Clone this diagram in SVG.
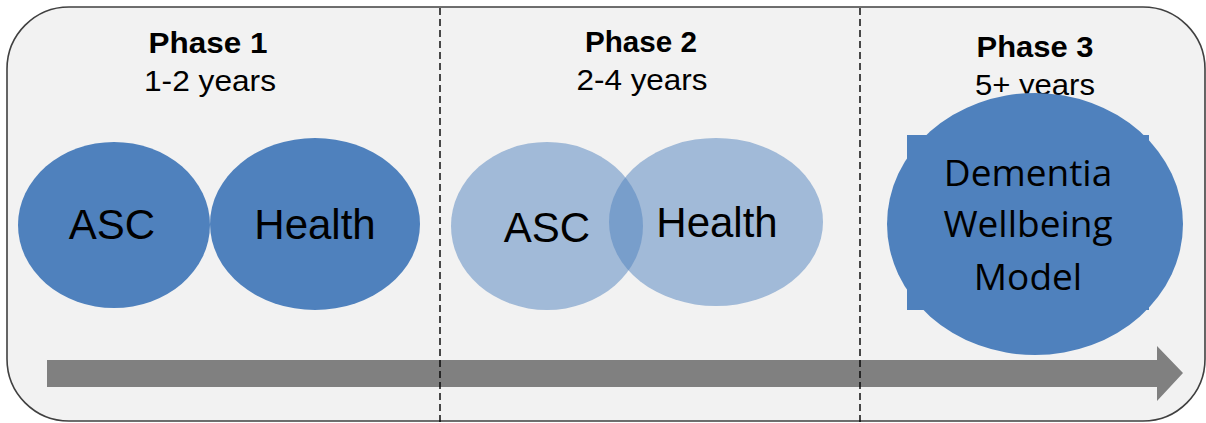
<svg xmlns="http://www.w3.org/2000/svg" width="1206" height="423" viewBox="0 0 1206 423">
  <style>
    .frame { fill: #f2f2f2; stroke: #404040; stroke-width: 1.6; }
    .divider { stroke: #000; stroke-width: 1.4; stroke-dasharray: 7 4; fill: none; }
    .title { font-family: "Liberation Sans", Arial, sans-serif; font-weight: bold; font-size: 30px; fill: #000; text-anchor: middle; }
    .sub { font-family: "Liberation Sans", Arial, sans-serif; font-size: 30px; fill: #000; text-anchor: middle; }
    .lbl { font-family: "Liberation Sans", Arial, sans-serif; font-size: 42px; fill: #000; text-anchor: middle; }
    .dwm { font-family: "Open Sans", "Noto Sans", sans-serif; font-size: 37px; fill: #000; text-anchor: middle; }
    .solid { fill: #4f81bd; }
    .faded { fill: #4f81bd; fill-opacity: 0.5; }
    .arrow { fill: #808080; }
  </style>

  <path class="frame" d="M69,7 H1143 A62,62 0 0 1 1205,69 V359 A62,62 0 0 1 1143,421 H69 A62,62 0 0 1 7,359 V69 A62,62 0 0 1 69,7 Z"/>

  <g id="phase1-header">
    <text class="title" x="208" y="53" textLength="119" lengthAdjust="spacingAndGlyphs">Phase 1</text>
    <text class="sub" x="210" y="91" textLength="132" lengthAdjust="spacingAndGlyphs">1-2 years</text>
  </g>
  <g id="phase2-header">
    <text class="title" x="641" y="52" textLength="112" lengthAdjust="spacingAndGlyphs">Phase 2</text>
    <text class="sub" x="642" y="90" textLength="131" lengthAdjust="spacingAndGlyphs">2-4 years</text>
  </g>
  <g id="phase3-header">
    <text class="title" x="1035" y="57" textLength="117" lengthAdjust="spacingAndGlyphs">Phase 3</text>
    <text class="sub" x="1035" y="95" textLength="120" lengthAdjust="spacingAndGlyphs">5+ years</text>
  </g>

  <g id="connectors">
    <polygon class="arrow" points="47,360 1157,360 1157,346 1183,373 1157,401 1157,387 47,387"/>
  </g>

  <g id="dividers">
    <line class="divider" x1="440" y1="8" x2="440" y2="423"/>
    <line class="divider" x1="860" y1="8" x2="860" y2="423"/>
  </g>

  <g id="asc-phase1">
    <ellipse class="solid" cx="114" cy="225" rx="96" ry="83"/>
    <text class="lbl" x="112" y="239">ASC</text>
  </g>
  <g id="health-phase1">
    <ellipse class="solid" cx="315" cy="224" rx="105" ry="86"/>
    <text class="lbl" x="315" y="239">Health</text>
  </g>

  <g id="asc-phase2">
    <ellipse class="faded" cx="547" cy="226" rx="96" ry="84"/>
    <text class="lbl" x="547" y="242">ASC</text>
  </g>
  <g id="health-phase2">
    <ellipse class="faded" cx="716" cy="222" rx="107" ry="84"/>
    <text class="lbl" x="717" y="237">Health</text>
  </g>

  <g id="dementia-wellbeing-model">
    <ellipse class="solid" cx="1035" cy="224" rx="148" ry="131"/>
    <rect class="solid" x="907" y="135" width="242" height="175"/>
    <text class="dwm" x="1028" y="186">Dementia</text>
    <text class="dwm" x="1028" y="237">Wellbeing</text>
    <text class="dwm" x="1028" y="290">Model</text>
  </g>
</svg>
